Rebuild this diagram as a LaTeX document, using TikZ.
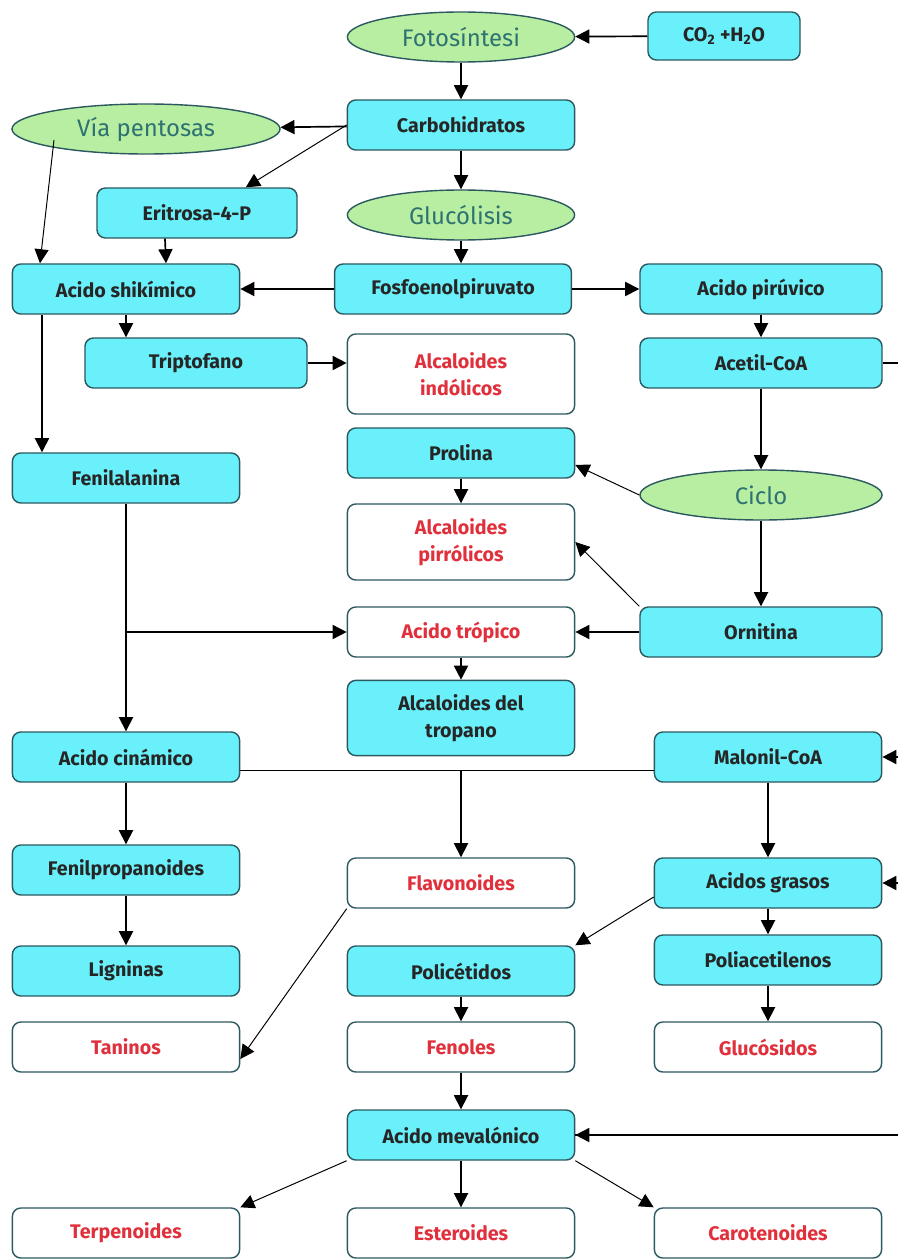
\documentclass[tikz,border=0pt]{standalone}
\usepackage{fontspec}
\setmainfont{Fira Sans}
\usetikzlibrary{shapes.geometric,arrows.meta}
\definecolor{cyanbox}{HTML}{6AF0FA}
\definecolor{greenoval}{HTML}{B8EEA2}
\definecolor{boxline}{HTML}{2C5860}
\definecolor{redtext}{HTML}{E0303C}
\definecolor{tealtext}{HTML}{2E7272}
\tikzset{
  Box/.style = {draw=boxline, rounded corners=6pt, line width=1pt, minimum width=5.68cm,
    minimum height=1.25cm, align=center, inner sep=2pt,
    font=\bfseries\fontsize{14}{19}\selectfont, text=black!85},
  Cyan/.style = {Box, fill=cyanbox},
  White/.style = {Box, fill=white, text=redtext},
  Oval/.style = {ellipse, draw=boxline, fill=greenoval, line width=1pt, inner sep=0pt,
    minimum width=5.68cm, minimum height=1.25cm, text=tealtext,
    font=\fontsize{17}{19}\selectfont},
  Arrow/.style = {-{Triangle[length=10pt,width=10pt]}, line width=1.2pt},
  Thin/.style = {line width=0.7pt}
}

\begin{document}
\begin{tikzpicture}[x=0.025cm, y=-0.025cm]
  \useasboundingbox (0,0) rectangle (898,1260);
  \node[Oval] (foto) at (461,37) {Fotosíntesi};
  \node[Cyan, minimum width=3.8cm, minimum height=1.2cm] (co2) at (724,36) {CO\textsubscript{2} +H\textsubscript{2}O};
  \node[Cyan] (carbo) at (461,125) {Carbohidratos};
  \node[Oval, minimum width=6.7cm] (pent) at (146,129) {Vía pentosas};
  \node[Cyan, minimum width=5cm] (erit) at (197,213) {Eritrosa-4-P};
  \node[Oval] (gluc) at (461,215) {Glucólisis};
  \node[Cyan] (shik) at (126,289) {Acido shikímico};
  \node[Cyan, minimum width=5.92cm] (fosfo) at (453,289) {Fosfoenolpiruvato};
  \node[Cyan, minimum width=6.05cm] (piru) at (761,289) {Acido pirúvico};
  \node[Cyan, minimum width=5.55cm] (trip) at (196,363) {Triptofano};
  \node[White, minimum height=2cm] (indol) at (461,374) {Alcaloides\\indólicos};
  \node[Cyan, minimum width=6.05cm] (acetil) at (761,363) {Acetil-CoA};
  \node[Cyan] (prol) at (461,453) {Prolina};
  \node[Cyan] (fenil) at (126,478) {Fenilalanina};
  \node[Oval, minimum width=6.05cm] (ciclo) at (761,495) {Ciclo};
  \node[White, minimum height=1.9cm] (pirrol) at (461,542) {Alcaloides\\pirrólicos};
  \node[White] (trop) at (461,632) {Acido trópico};
  \node[Cyan, minimum width=6.05cm] (orni) at (761,632) {Ornitina};
  \node[Cyan, minimum height=1.88cm] (tropano) at (461,718) {Alcaloides del\\tropano};
  \node[Cyan] (cina) at (126,757) {Acido cinámico};
  \node[Cyan] (malo) at (768,757) {Malonil-CoA};
  \node[Cyan] (fprop) at (126,870) {Fenilpropanoides};
  \node[White] (flavo) at (461,883) {Flavonoides};
  \node[Cyan] (grasos) at (768,883) {Acidos grasos};
  \node[Cyan] (lign) at (126,971) {Ligninas};
  \node[Cyan] (polic) at (461,971) {Policétidos};
  \node[Cyan] (polia) at (768,960) {Poliacetilenos};
  \node[White] (tani) at (126,1047) {Taninos};
  \node[White] (feno) at (461,1047) {Fenoles};
  \node[White] (gluco) at (768,1047) {Glucósidos};
  \node[Cyan] (meva) at (461,1135) {Acido mevalónico};
  \node[White] (terp) at (126,1233) {Terpenoides};
  \node[White] (este) at (461,1233) {Esteroides};
  \node[White] (caro) at (768,1233) {Carotenoides};

  \coordinate (pentfoot) at (54,140);
  \coordinate (fenbranch) at (125,632);
  \coordinate (cinabranch) at (461,770);
  \coordinate (edge) at (912,363);

  \draw[Arrow] (co2) -- (foto);
  \draw[Arrow] (foto) -- (carbo);
  \draw[Arrow] (carbo) -- (pent);
  \draw[Arrow, Thin] (carbo.west) -- ([xshift=1.22cm]erit.north);
  \draw[Arrow] (carbo) -- (gluc);
  \draw[Arrow, Thin] (pentfoot) -- ([xshift=-2.15cm]shik.north);
  \draw[Arrow] ([xshift=-0.8cm]erit.south) -- ([xshift=1cm]shik.north);
  \draw[Arrow] (gluc.south) -- (gluc.south |- fosfo.north);
  \draw[Arrow] (fosfo) -- (shik);
  \draw[Arrow] (fosfo) -- (piru);
  \draw[Arrow] (shik.south) -- (shik.south |- trip.north);
  \draw[Arrow] ([xshift=-2.1cm]shik.south) -- ([xshift=-2.1cm]fenil.north);
  \draw[Arrow] (trip) -- (trip -| indol.west);
  \draw[Arrow] (piru) -- (acetil);
  \draw[Arrow] (acetil) -- (ciclo);
  \draw[Arrow, Thin] (ciclo.west) -- ([yshift=-0.3cm]prol.east);
  \draw[Arrow] (prol) -- (pirrol);
  \draw[Arrow] (ciclo) -- (orni);
  \draw[Arrow, Thin] (orni.north west) -- (pirrol.east);
  \draw[Arrow] (orni) -- (trop);
  \draw[Arrow] (fenil.south) -- (cina.north);
  \draw[Arrow] (fenbranch) -- (trop);
  \draw[Arrow] (trop) -- (tropano);
  \draw (cina.east |- cinabranch) -- (malo.west |- cinabranch);
  \draw[Arrow] (cinabranch) -- (flavo);
  \draw[Arrow] (cina) -- (fprop);
  \draw[Arrow] (fprop) -- (lign);
  \draw[Arrow, Thin] (flavo.south west) -- ([yshift=-0.3cm]tani.east);
  \draw[Arrow] (malo) -- (grasos);
  \draw[Arrow, Thin] ([yshift=-0.35cm]grasos.west) -- (polic.north east);
  \draw[Arrow] (grasos) -- (polia);
  \draw[Arrow] (polia) -- (gluco);
  \draw[Arrow] (polic) -- (feno);
  \draw[Arrow] (feno) -- (meva);
  \draw[line width=1pt] (acetil) -- (edge) |- (meva);
  \draw[Arrow] (edge |- malo) -- (malo);
  \draw[Arrow] (edge |- grasos) -- (grasos);
  \draw[Arrow] (edge |- meva) -- (meva);
  \draw[Arrow, Thin] (meva.south west) -- (terp.north east);
  \draw[Arrow] (meva) -- (este);
  \draw[Arrow, Thin] (meva.south east) -- (caro.north west);
\end{tikzpicture}
\end{document}
